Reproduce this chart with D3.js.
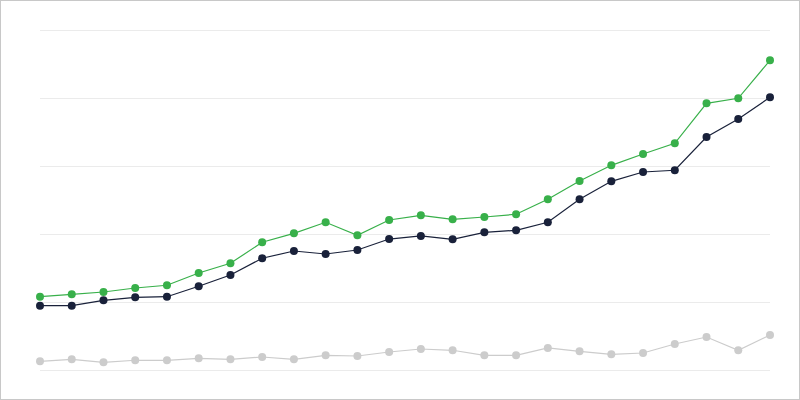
<!DOCTYPE html>
<html>
<head>
<meta charset="utf-8">
<script src="https://cdn.jsdelivr.net/npm/d3@7"></script>
<style>
html,body{margin:0;padding:0;background:#fff;}
svg{display:block;}
</style>
</head>
<body>
<svg id="chart" width="800" height="400"></svg>
<script>
const periods = d3.range(1, 25).map(String);
const gridTicks = [0, 10, 20, 30, 40, 50];
const seriesGreen = [10.78, 11.13, 11.47, 12.06, 12.46, 14.26, 15.69, 18.78, 20.10, 21.72, 19.81, 22.06, 22.75, 22.16, 22.50, 22.90, 25.10, 27.79, 30.10, 31.76, 33.34, 39.22, 39.96, 45.54];
const seriesNavy = [9.46, 9.46, 10.25, 10.69, 10.78, 12.31, 13.97, 16.43, 17.50, 17.06, 17.65, 19.26, 19.71, 19.22, 20.25, 20.54, 21.72, 25.10, 27.75, 29.12, 29.37, 34.26, 36.91, 40.10];
const seriesGray = [1.28, 1.57, 1.13, 1.43, 1.43, 1.72, 1.57, 1.91, 1.57, 2.16, 2.06, 2.65, 3.09, 2.90, 2.16, 2.16, 3.24, 2.75, 2.31, 2.50, 3.82, 4.85, 2.90, 5.15];

const svg = d3.select("#chart");
const W = 800, H = 400;
const margin = {left: 40, right: 30, top: 30, bottom: 30};

svg.append("rect").attr("x", 0.5).attr("y", 0.5).attr("width", W - 1).attr("height", H - 1)
  .attr("fill", "#fff").attr("stroke", "#c8c8c8").attr("stroke-width", 1);

const x = d3.scalePoint().domain(periods).range([margin.left, W - margin.right]);
const y = d3.scaleLinear().domain([0, 50]).range([H - margin.bottom, margin.top]);

const yAxis = d3.axisLeft(y).tickValues(gridTicks).tickSize(-(W - margin.left - margin.right)).tickFormat("");
const gy = svg.append("g").attr("transform", `translate(${margin.left},0)`).call(yAxis);
gy.select(".domain").remove();
gy.selectAll(".tick line").attr("stroke", "#ebebeb").attr("stroke-width", 1);

const series = [
  {values: seriesGray, color: "#cccccc"},
  {values: seriesNavy, color: "#19213a"},
  {values: seriesGreen, color: "#38b04a"}
];

const line = d3.line().x((d, i) => x(periods[i])).y(d => y(d));

series.forEach(s => {
  const g = svg.append("g");
  g.append("path").datum(s.values).attr("d", line)
    .attr("fill", "none").attr("stroke", s.color).attr("stroke-width", 1.2);
  g.selectAll("circle").data(s.values).join("circle")
    .attr("cx", (d, i) => x(periods[i])).attr("cy", d => y(d)).attr("r", 4)
    .attr("fill", s.color);
});
</script>
</body>
</html>
